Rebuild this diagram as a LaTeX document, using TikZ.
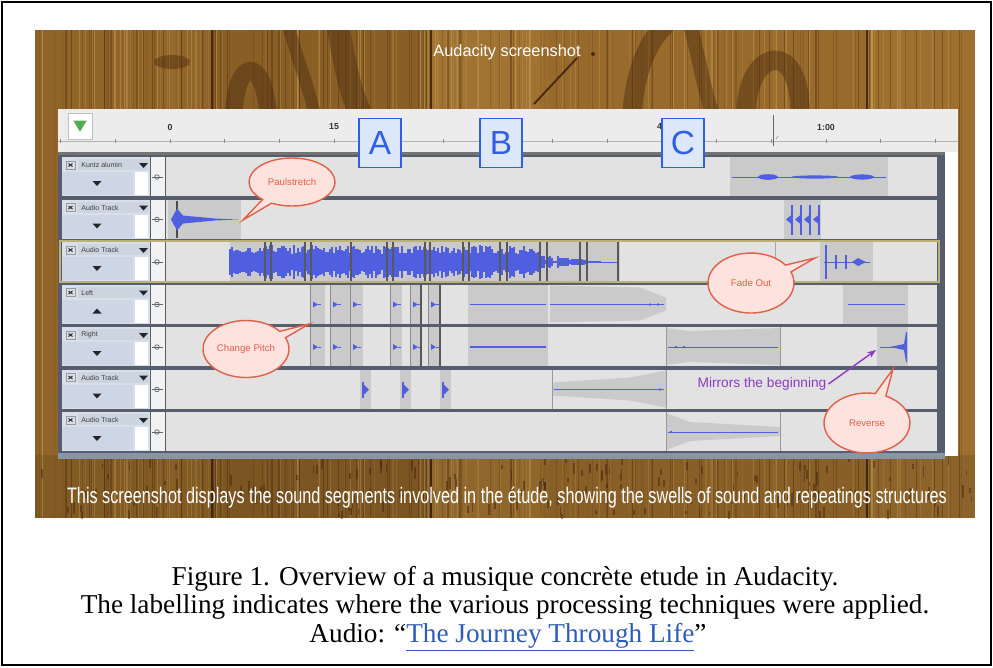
\documentclass[tikz,border=0pt]{standalone}
\usepackage{fontspec}
\setmainfont{Liberation Serif}
\setsansfont{Liberation Sans}
\usetikzlibrary{shapes.callouts,arrows.meta,positioning}

\definecolor{woodbase}{HTML}{95682A}
\definecolor{wooddark}{HTML}{4A2A10}
\definecolor{woodlight}{HTML}{CCA052}
\definecolor{rulerbg}{HTML}{ECECEC}
\definecolor{panelbg}{HTML}{565E6E}
\definecolor{panelfoot}{HTML}{8A94A8}
\definecolor{ctrlbg}{HTML}{D9DFE8}
\definecolor{namebg}{HTML}{CCD4E0}
\definecolor{ctrllow}{HTML}{CDD6E4}
\definecolor{gainbg}{HTML}{F2F2F2}
\definecolor{wavebg}{HTML}{E2E2E2}
\definecolor{seggray}{HTML}{CACACA}
\definecolor{waveblue}{HTML}{4F5FE0}
\definecolor{selyellow}{HTML}{B9B274}
\definecolor{letterblue}{HTML}{2F5FE6}
\definecolor{letterfill}{HTML}{DCE7FA}
\definecolor{calloutred}{HTML}{E0604A}
\definecolor{calloutfill}{HTML}{FDE2DD}
\definecolor{mirrorpurple}{HTML}{8A3CC0}
\definecolor{linkblue}{HTML}{2E5CB8}

\begin{document}
\begin{tikzpicture}[x=0.02cm,y=-0.02cm,
  bubble/.style = {ellipse callout, draw=calloutred, thick, fill=calloutfill,
                   text=calloutred, inner sep=0pt,
                   font=\sffamily\fontsize{5.5}{6}\selectfont,
                   minimum width=1.72cm, minimum height=0.96cm},
  letterbox/.style = {draw=letterblue, thick, fill=letterfill, text=letterblue,
                      font=\sffamily\fontsize{19}{19}\selectfont,
                      minimum width=0.84cm, minimum height=0.98cm, inner sep=0pt},
  ctrltext/.style = {font=\sffamily\fontsize{4}{4}\selectfont, text=black!75,
                     inner sep=0pt},
  ticklabel/.style = {font=\sffamily\bfseries\fontsize{5}{5}\selectfont,
                      text=black!80, inner sep=0pt},
  captext/.style = {anchor=base, inner sep=0pt, font=\fontsize{15.5}{16}\selectfont},
  seg/.style = {fill=seggray},
  wave/.style = {draw=waveblue, line width=0.5pt},
  edge/.style = {draw=black!65, line width=0.7pt},
  grain/.style = {line width=0.6pt},
  swirl/.style = {draw=wooddark, opacity=0.45, line cap=round}
                ]
\useasboundingbox (0,0) rectangle (993,667);
\draw[line width=1.2pt] (2,2) rectangle (991,665);

%% wood planks
\begin{scope}
\clip (35,30) rectangle (975,518);
\fill[woodbase] (35,30) rectangle (975,518);
\fill[woodbase!95!wooddark] (35,30) rectangle (212,518);
\fill[woodbase!85!wooddark] (212,30) rectangle (431,518);
\fill[woodbase!80!woodlight] (431,30) rectangle (540,518);
\fill[woodbase!95!woodlight] (540,30) rectangle (867,518);
\fill[woodbase!85!woodlight] (867,30) rectangle (975,518);
\pgfmathsetseed{7}
\foreach \i in {1,...,150} {
  \pgfmathsetmacro\gx{36+938*rnd}
  \pgfmathsetmacro\go{0.1+0.35*rnd}
  \draw[grain, wooddark, opacity=\go] (\gx,30) -- (\gx,518);
}
\foreach \i in {1,...,130} {
  \pgfmathsetmacro\gx{36+938*rnd}
  \pgfmathsetmacro\go{0.15+0.4*rnd}
  \draw[grain, woodlight, opacity=\go] (\gx,30) -- (\gx,518);
}
% knots and dark swirls along the top
\fill[wooddark, opacity=0.45] (172,62) ellipse (18 and 7);
\draw[swirl, line width=10pt] (234,112) .. controls (236,62) and (262,52) .. (268,112);
\draw[swirl, line width=7pt] (288,24) .. controls (298,62) and (308,84) .. (314,112);
\draw[swirl, line width=13pt] (338,24) .. controls (344,62) and (350,92) .. (360,112);
\draw[swirl, line width=11pt] (632,112) .. controls (636,72) and (645,45) .. (666,24);
\draw[swirl, line width=8pt] (690,24) .. controls (700,62) and (704,90) .. (712,112);
\draw[swirl, line width=11pt] (746,112) .. controls (748,48) and (800,38) .. (800,112);
\draw[wooddark, line width=1.1pt] (577,58) -- (534,104);
\fill[wooddark] (593,54) circle (2);
% speckled grain at the bottom
\foreach \i in {1,...,160} {
  \pgfmathsetmacro\gx{36+938*rnd}
  \pgfmathsetmacro\gy{456+58*rnd}
  \pgfmathsetmacro\gl{3+10*rnd}
  \draw[wooddark, line width=1pt, opacity=0.5] (\gx,\gy) -- (\gx,\gy+\gl);
}
\foreach \px in {212,431,867}
  \draw[wooddark, line width=1pt] (\px,30) -- (\px,518);
\fill[black, opacity=0.1] (35,455) rectangle (975,518);
\end{scope}

\node[captext, text=white, font=\sffamily\fontsize{9.3}{9.3}\selectfont] (shot) at (507,56) {Audacity screenshot};
\node[text=white, anchor=base, inner sep=0pt] (note) at (507,503)
  {\resizebox{17.6cm}{0.33cm}{\sffamily This screenshot displays the sound segments involved in the étude, showing the swells of sound and repeatings structures}};

%% ruler
\fill[rulerbg] (58,109) rectangle (958,152);
\draw[black!30] (58,141) -- (958,141);
\fill[black!55] (58,152) rectangle (945,156);
\draw[black!25, fill=white] (68,113) rectangle (92,139);
\fill[green!55!black!70, draw=green!40!black!60] (74,121) -- (86,121) -- (80,131) -- cycle;
\foreach \k in {-2,...,14}
  \draw[black!45] ({170+54.67*\k},139) -- ({170+54.67*\k},143);
\node[ticklabel] (t0) at (170,127) {0};
\node[ticklabel] (t15) at (334,127) {15};
\node[ticklabel] (t45) at (662,127) {45};
\node[ticklabel] (t60) at (826,127) {1:00};
\draw[black!60] (773,115) -- (773,146);
\draw[black!40] (776,139) -- (778,136);

%% track area
\fill[panelbg] (58,155) rectangle (945,458);
\fill[panelfoot] (58,453) rectangle (945,459);
\fill[white] (945,152) rectangle (958,456);
\foreach \t/\nm/\dir in {1/Kuntz alumin/1, 2/Audio Track/1, 3/Audio Track/1,
                         4/Left/-1, 5/Right/1, 6/Audio Track/1, 7/Audio Track/1} {
  \pgfmathsetmacro\T{157+42.5*(\t-1)}
  \begin{scope}[shift={(0,\T)}]
    \fill[ctrlbg] (62,0) rectangle (150,39);
    \fill[namebg] (78,2) rectangle (149,13);
    \draw[black!40, fill=ctrlbg] (66,4) rectangle (75,12);
    \draw[black!80, line width=0.6pt] (68.5,6.5) -- (72.5,9.5) (68.5,9.5) -- (72.5,6.5);
    \node[ctrltext, anchor=west] at (81,8) {\nm};
    \fill[black!85] (139,6) -- (148,6) -- (143.5,11) -- cycle;
    \fill[ctrllow] (62,15) rectangle (133,38);
    \fill[black!85] (92.5,{26.5-2.5*\dir}) -- (101.5,{26.5-2.5*\dir}) -- (97,{26.5+2.5*\dir}) -- cycle;
    \fill[white] (135,15) rectangle (148,38);
    \fill[gainbg] (151,0) rectangle (165,39);
    \draw[black!60] (157,20) circle (2.3);
    \draw[black!60] (152,20) -- (163,20);
    \fill[wavebg] (166,0) rectangle (937,39);
  \end{scope}
}
\draw[selyellow, line width=1.2pt] (60,241) rectangle (939,282);

%% track 1
\begin{scope}[shift={(0,157)}]
  \fill[seg] (730,0) rectangle (888,39);
  \draw[wave] (732,20) -- (886,20);
  \fill[waveblue] (768,20) ellipse (10 and 2.8);
  \fill[waveblue] (815,20) ellipse (24 and 1.6);
  \fill[waveblue] (862,20) ellipse (12 and 2.6);
\end{scope}

%% track 2
\begin{scope}[shift={(0,199.5)}]
  \fill[seg] (168,0) rectangle (241,39);
  \draw[black!70, line width=0.8pt] (177,1) -- (177,38);
  \fill[waveblue] (171,20) -- (177,9) -- (183,16) -- (215,19) -- (238,20)
                  -- (215,21) -- (183,24) -- (177,31) -- cycle;
  \fill[seg] (784,0) rectangle (821,39);
  \foreach \sx in {792,801,810,819} {
    \draw[wave, line width=0.8pt] (\sx,5) -- (\sx,35);
    \fill[waveblue] (\sx-6,20) -- (\sx,15) -- (\sx,25) -- cycle;
  }
\end{scope}

%% track 3
\begin{scope}[shift={(0,242)}]
  \fill[seg] (230,0) rectangle (620,39);
  \foreach \i in {0,...,155} {
    \pgfmathsetmacro\wx{230+2*\i}
    \pgfmathsetmacro\wh{8+9*rnd}
    \draw[wave, line width=0.9pt] (\wx,{20-\wh}) -- (\wx,{20+\wh});
  }
  \foreach \i in {0,...,30} {
    \pgfmathsetmacro\wx{540+2*\i}
    \pgfmathsetmacro\wh{(1-\i/30)*9*rnd+0.6}
    \draw[wave, line width=0.9pt] (\wx,{20-\wh}) -- (\wx,{20+\wh});
  }
  \draw[wave] (600,20) -- (618,20);
  \foreach \lx in {265,271,305,311,351,387,393,425,430,463,469,500,507,540,547,580,587,618}
    \draw[edge] (\lx,0) -- (\lx,39);
  \draw[black!35] (775,0) -- (775,39);
  \fill[seg] (820,0) rectangle (873,39);
  \draw[wave] (824,20) -- (870,20);
  \draw[wave, line width=0.8pt] (826,3) -- (826,37);
  \foreach \sx in {836,846}
    \draw[wave, line width=0.8pt] (\sx,13) -- (\sx,27);
  \fill[waveblue] (852,20) -- (858,16) -- (866,20) -- (858,24) -- cycle;
\end{scope}

%% tracks 4 and 5 share the cut points
\foreach \T in {284.5,327} {
  \begin{scope}[shift={(0,\T)}]
    \foreach \a/\b in {310/325,330/350,350/363,390/402,410/420,428/440} {
      \fill[seg] (\a,0) rectangle (\b,39);
      \draw[black!45] (\a,0) -- (\a,39);
      \fill[waveblue] (\a+3,17) -- (\a+8,20) -- (\a+3,23) -- cycle;
      \draw[wave] (\a+8,20) -- (\a+11,20);
    }
    \draw[edge] (421,0) -- (421,39);
    \draw[edge] (440,0) -- (440,39);
    \fill[seg] (468,0) rectangle (548,39);
    \draw[wave, line width=0.9pt] (470,20) -- (546,20);
  \end{scope}
}
\begin{scope}[shift={(0,284.5)}]
  \fill[seg] (550,1) -- (640,3) -- (666,13) -- (666,26) -- (640,36) -- (550,38) -- cycle;
  \draw[wave] (550,20) -- (664,20);
  \fill[waveblue] (650,20) circle (1.3);
  \fill[waveblue] (658,20) circle (1.3);
  \fill[seg] (843,0) rectangle (908,39);
  \draw[wave, line width=1pt] (848,20) -- (905,20);
\end{scope}
\begin{scope}[shift={(0,327)}]
  \fill[seg] (666,1) -- (690,4) -- (780,1) -- (780,38) -- (690,35) -- (666,38) -- cycle;
  \draw[black!40] (666,0) -- (666,39);
  \draw[black!40] (780,0) -- (780,39);
  \draw[wave] (668,20) -- (778,20);
  \fill[waveblue] (676,20) circle (1.3);
  \fill[waveblue] (684,20) circle (1.3);
  \fill[seg] (877,0) rectangle (908,39);
  \draw[wave] (880,20) -- (903,20);
  \fill[waveblue] (890,20) -- (904,17) -- (906,5) -- (907,5) -- (907,35) -- (906,35) -- (904,23) -- cycle;
\end{scope}

%% track 6
\begin{scope}[shift={(0,369.5)}]
  \foreach \a in {360,400,440} {
    \fill[seg] (\a,0) rectangle (\a+11,39);
    \draw[wave, line width=0.8pt] (\a+3,12) -- (\a+3,28);
    \fill[waveblue] (\a+3,14) -- (\a+9,20) -- (\a+3,26) -- cycle;
  }
  \fill[seg] (552,13) -- (630,8) -- (666,1) -- (666,38) -- (630,31) -- (552,26) -- cycle;
  \draw[black!40] (552,0) -- (552,39);
  \draw[black!40] (666,0) -- (666,39);
  \draw[wave] (554,20) -- (664,20);
  \fill[waveblue] (660,20) circle (1.4);
\end{scope}

%% track 7
\begin{scope}[shift={(0,412)}]
  \fill[seg] (666,1) -- (690,10) -- (780,15) -- (780,24) -- (690,29) -- (666,38) -- cycle;
  \draw[black!40] (666,0) -- (666,39);
  \draw[black!40] (780,0) -- (780,39);
  \draw[wave] (668,20) -- (778,20);
  \fill[waveblue] (671,20) circle (1.4);
\end{scope}

%% section markers
\node[letterbox] (secA) at (380,143) {A};
\node[letterbox] (secB) at (501,143) {B};
\node[letterbox] (secC) at (683,143) {C};

%% callouts
\node[bubble, callout absolute pointer={(243,220)}] (paul) at (292,182) {Paulstretch};
\node[bubble, minimum height=1.2cm, callout absolute pointer={(815,258)}] (fade) at (751,283) {Fade Out};
\node[bubble, minimum height=1.14cm, callout absolute pointer={(309,324)}] (pitch) at (246,349) {Change Pitch};
\node[bubble, minimum height=1.2cm, callout absolute pointer={(893,369)}] (rev) at (867,423) {Reverse};

\node[text=mirrorpurple, inner sep=1pt, font=\sffamily\fontsize{7.8}{7.8}\selectfont] (mirror) at (762,384) {Mirrors the beginning};
\coordinate (revstart) at (876,350);
\draw[mirrorpurple, thick, -{Stealth[length=5pt]}] (mirror.east) -- (revstart);

%% caption
\node[captext] (cap1) at (505,585) {Figure 1. Overview of a musique concrète etude in Audacity.};
\node[captext] (cap2) at (505,613) {The labelling indicates where the various processing techniques were applied.};
\node[captext] (cap3) at (508,642) {Audio: “\textcolor{linkblue}{\underline{The Journey Through Life}}”};
\end{tikzpicture}
\end{document}
